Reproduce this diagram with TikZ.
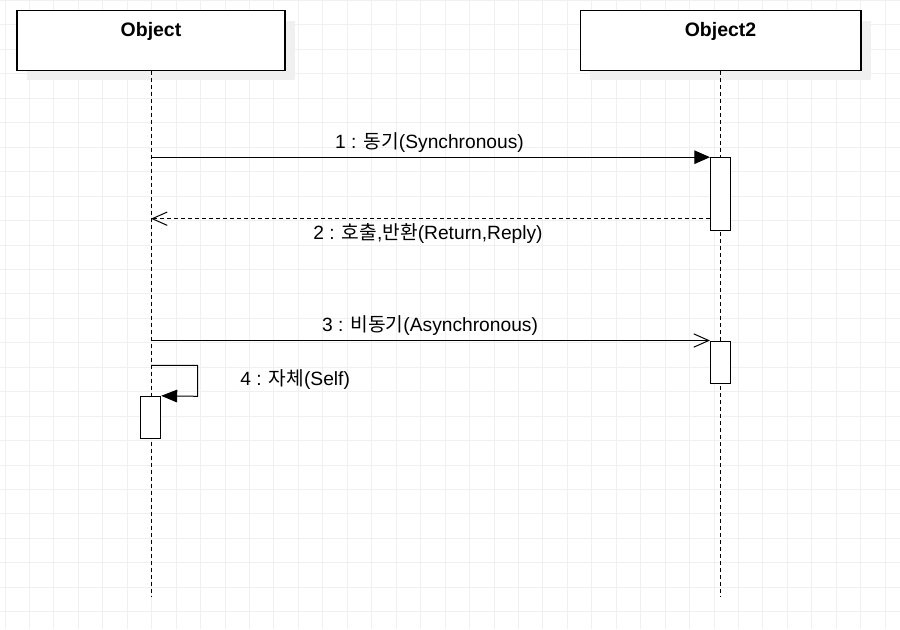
\documentclass[tikz,border=0pt]{standalone}
\usepackage{fontspec}
\setmainfont{Liberation Sans}
\newfontfamily\kr{Noto Sans CJK KR}
\usetikzlibrary{arrows.meta, shadows, positioning}

\begin{document}
\begin{tikzpicture}[
    x=0.75pt, y=-0.75pt,
    gridline/.style={draw=black!6, line width=0.75pt},
    objbox/.style={draw=black, line width=1pt, fill=white,
        minimum width=201pt, minimum height=44.7pt, inner sep=0pt,
        drop shadow={shadow xshift=7.5pt, shadow yshift=-7.5pt, fill=black!6, opacity=1}},
    objtitle/.style={font=\fontsize{14.6}{17}\selectfont\bfseries, anchor=base, inner sep=0pt},
    lifeline/.style={line width=0.75pt, dash pattern=on 3pt off 2.25pt},
    actbox/.style={draw=black, line width=0.75pt, fill=white, minimum width=15pt, inner sep=0pt},
    msg/.style={line width=0.75pt},
    msglabel/.style={font=\fontsize{14.4}{17}\selectfont, anchor=base, inner sep=0pt},
    filledtip/.style={-{Triangle[length=11.8pt, width=10.2pt]}},
    opentip/.style={-{Straight Barb[length=11.25pt, width=10pt]}}
]

    \useasboundingbox (0,0) rectangle (900,629);

    % Background grid
    \foreach \i in {0,...,36} {
        \draw[gridline] ({5+24.45*\i},0) -- ({5+24.45*\i},629);
    }
    \foreach \j in {0,...,25} {
        \draw[gridline] (0,{0.5+24.45*\j}) -- (900,{0.5+24.45*\j});
    }

    % Objects
    \node[objbox] (obj) at (151,40.5) {};
    \node[objbox, minimum width=210.5pt] (obj2) at (720.5,40.5) {};
    \node[objtitle] (objname) at (151,36.5) {Object};
    \node[objtitle] (obj2name) at (720.5,36.5) {Object2};

    % Lifelines
    \coordinate (objend) at (151,597);
    \coordinate (obj2end) at (720.5,597);
    \draw[lifeline] (obj.south) -- (objend);
    \draw[lifeline] (obj2.south) -- (obj2end);

    % Activations
    \node[actbox, minimum height=54.75pt] (act1) at (720.5,194.2) {};
    \node[actbox, minimum height=32pt] (act2) at (720.5,362.35) {};
    \node[actbox, minimum height=32pt] (act3) at (150.7,417.65) {};

    % Messages
    \draw[msg, filledtip] (obj.south |- act1.north) -- (act1.north west);
    \coordinate (retto) at (151,218.7);
    \draw[msg, opentip, dash pattern=on 3pt off 2.25pt] (act1.west |- retto) -- (retto);
    \draw[msg, opentip] (obj.south |- act2.north) -- (act2.north west);
    \coordinate (selfout) at (151,365.3);
    \coordinate (selfturn) at (197.7,396.3);
    \draw[msg, -{Triangle[length=12pt, width=9.5pt]}] (selfout) -| (selfturn) -- (act3.north east);

    % Labels
    \node[msglabel] (m1label) at (429.5,148.3) {1 : {\kr 동기}(Synchronous)};
    \node[msglabel] (m2label) at (428,239.3) {2 : {\kr 호출},{\kr 반환}(Return,Reply)};
    \node[msglabel] (m3label) at (430,331.7) {3 : {\kr 비동기}(Asynchronous)};
    \node[msglabel, anchor=base west] (m4label) at (240,385.7) {4 : {\kr 자체}(Self)};

\end{tikzpicture}
\end{document}
